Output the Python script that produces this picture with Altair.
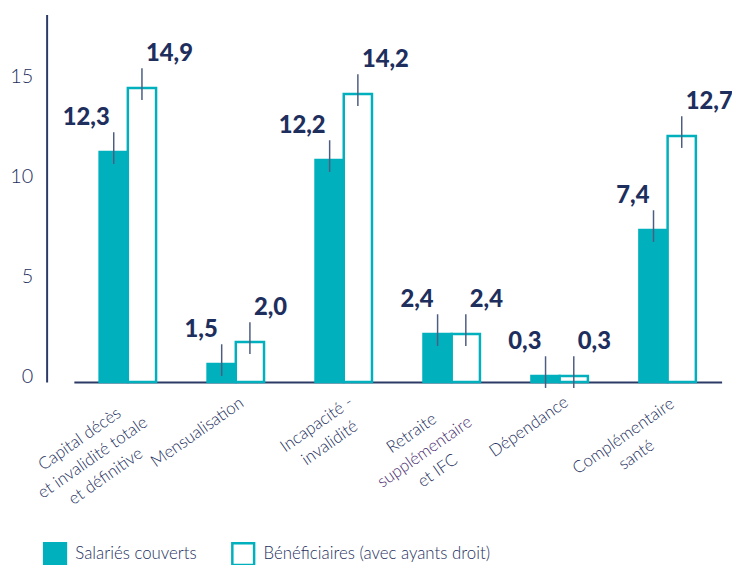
import math
import altair as alt
import pandas as pd

# ---------------- data ----------------
categories = [
    "Capital décès\net invalidité totale\net définitive",
    "Mensualisation",
    "Incapacité -\ninvalidité",
    "Retraite\nsupplémentaire\net IFC",
    "Dépendance",
    "Complémentaire\nsanté",
]
# line of the category label drawn in purple (index), -1 = none
purple_line = [-1, -1, -1, 1, -1, -1]

series = ["Salariés couverts", "Bénéficiaires (avec ayants droit)"]

# bar heights as drawn
salaries_values = [11.5, 0.9, 11.1, 2.4, 0.3, 7.6]
benef_values = [14.7, 2.0, 14.4, 2.4, 0.3, 12.3]
# printed values
salaries_labels = ["12,3", "1,5", "12,2", "2,4", "0,3", "7,4"]
benef_labels = ["14,9", "2,0", "14,2", "2,4", "0,3", "12,7"]

y_ticks = [0, 5, 10, 15]

# ---------------- styles ----------------
TEAL = "#00b0bd"
NAVY = "#1e2f5e"
AXIS = "#2b3a67"
LEADER = "#4d5d82"
PURPLE = "#4b2c6f"
FONT = "Lato"

PLOT_W, PLOT_H = 671, 371
X_RANGE = [27.5, 681.5]
BAND = (X_RANGE[1] - X_RANGE[0]) / len(categories)
LABEL_SIZE = 17
LINE_H = 23
TOP_GAP = 8
ANGLE = -35  # degrees (text rising to the right)
WIDTH_FACTOR = 1.12

# approximate glyph widths (em) for width estimation of rotated labels
CHAR_W = {
    "i": 0.23, "l": 0.23, "j": 0.23, "t": 0.33, "f": 0.30, "r": 0.35,
    "s": 0.41, "c": 0.45, "e": 0.51, "é": 0.51, "a": 0.49, "n": 0.55,
    "u": 0.55, "d": 0.55, "p": 0.55, "o": 0.55, "v": 0.50, "m": 0.83,
    "è": 0.51, " ": 0.26, "-": 0.33, "C": 0.66, "M": 0.86, "I": 0.28,
    "F": 0.53, "R": 0.60, "D": 0.73,
}


def text_width(s):
    return sum(CHAR_W.get(ch, 0.52) for ch in s) * LABEL_SIZE * WIDTH_FACTOR


rows = []
for c, sv, bv, sl, bl in zip(categories, salaries_values, benef_values,
                              salaries_labels, benef_labels):
    rows.append({"cat": c, "series": series[0], "value": sv, "label": sl})
    rows.append({"cat": c, "series": series[1], "value": bv, "label": bl})
df = pd.DataFrame(rows)

# category labels: one row per line, rotated block hanging below the tick
ca, sa = math.cos(math.radians(ANGLE)), math.sin(math.radians(ANGLE))
lab_rows = []
for c, pl in zip(categories, purple_line):
    lines = c.split("\n")
    w = max(text_width(l) for l in lines)
    for i, line in enumerate(lines):
        xr = -w / 2
        yr = TOP_GAP + (i + 0.5) * LINE_H
        lab_rows.append({
            "cat": c,
            "text": line,
            "col": PURPLE if i == pl else NAVY,
            "ox": xr * ca - yr * sa + BAND / 2,
            "oy": xr * sa + yr * ca,
        })
df_lab = pd.DataFrame(lab_rows)

# ---------------- encodings ----------------
X = alt.X(
    "cat:N",
    sort=categories,
    scale=alt.Scale(domain=categories, range=X_RANGE, paddingInner=0, paddingOuter=0),
    axis=alt.Axis(labels=False, ticks=False, title=None, domainColor=AXIS, domainWidth=2),
)
XOFF = alt.XOffset(
    "series:N",
    sort=series,
    scale=alt.Scale(domain=series, paddingInner=0, paddingOuter=0.912),
)
Y = alt.Y(
    "value:Q",
    scale=alt.Scale(domain=[0, 18.37], nice=False, zero=True),
    axis=alt.Axis(
        values=y_ticks, ticks=False, grid=False, title=None,
        domainColor=AXIS, domainWidth=2,
        labelFont=FONT, labelFontWeight=300, labelFontSize=20, labelColor=NAVY,
        labelPadding=14, labelOffset=-6,
    ),
)

base = alt.Chart(df)

bars = base.mark_bar(stroke=TEAL, strokeWidth=2.5).encode(
    x=X,
    xOffset=XOFF,
    y=Y,
    fill=alt.Fill(
        "series:N",
        sort=series,
        scale=alt.Scale(domain=series, range=[TEAL, "#ffffff"]),
        legend=alt.Legend(
            title=None, orient="none", legendX=-4, legendY=532,
            direction="horizontal", symbolType="square", symbolSize=484,
            symbolStrokeColor=TEAL, symbolStrokeWidth=2.5, symbolOpacity=1,
            labelFont=FONT, labelFontSize=17, labelFontWeight=300,
            labelColor=NAVY, labelOffset=8, labelLimit=400,
            columnPadding=30, padding=0,
        ),
    ),
)

rules = base.mark_rule(color=LEADER, strokeWidth=1.5, yOffset=12, y2Offset=-20).encode(
    x=X, xOffset=XOFF, y=Y, y2=alt.Y2("value:Q")
)

val_style = dict(font=FONT, fontSize=24, fontWeight=900, color=NAVY, baseline="alphabetic", dy=-27)
text_s = base.transform_filter(alt.datum.series == series[0]).mark_text(
    align="right", dx=1, **val_style
).encode(x=X, xOffset=XOFF, y=Y, text="label:N")
text_b = base.transform_filter(alt.datum.series == series[1]).mark_text(
    align="left", dx=-1, **val_style
).encode(x=X, xOffset=XOFF, y=Y, text="label:N")

cat_labels = alt.Chart(df_lab).mark_text(
    align="center", baseline="middle",
    font=FONT, fontSize=LABEL_SIZE, fontWeight=300,
).encode(
    x=X,
    xOffset=alt.XOffset("ox:Q", scale=None),
    y=alt.datum(0),
    yOffset=alt.YOffset("oy:Q", scale=None),
    angle=alt.value(360 + ANGLE),
    color=alt.Color("col:N", scale=None),
    text="text:N",
)

chart = (
    alt.layer(bars, rules, text_s, text_b, cat_labels)
    .resolve_scale(xOffset="independent", yOffset="independent")
    .properties(
        width=PLOT_W,
        height=PLOT_H,
        background="white",
        autosize=alt.AutoSizeParams(type="none"),
        padding={"left": 39, "top": 4, "right": 21, "bottom": 182},
    )
    .configure_view(stroke="transparent", strokeWidth=0)
)

chart.save("out.html", embed_options={"renderer": "svg", "actions": False})
